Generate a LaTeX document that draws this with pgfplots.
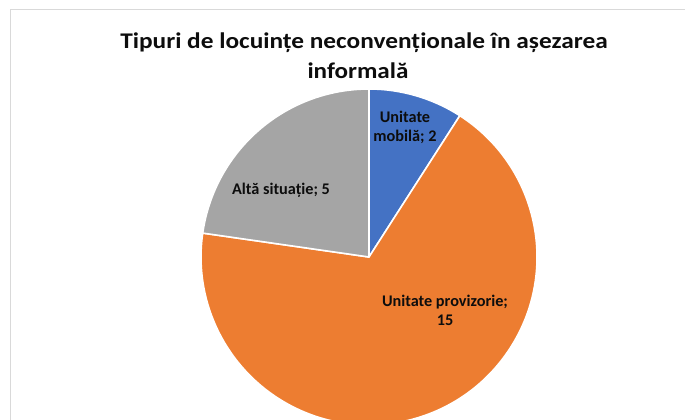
\documentclass[border=0pt]{standalone}
\usepackage{pgfplots}
\usepackage{pgfplotstable}
\pgfplotsset{compat=1.18}
\usepackage{fontspec}
\setmainfont{Carlito}
\definecolor{cblue}{HTML}{4472C4}
\definecolor{corange}{HTML}{ED7D31}
\definecolor{cgray}{HTML}{A5A5A5}
\definecolor{cframe}{HTML}{D9D9D9}
\definecolor{ctext}{HTML}{0D0D0D}
\pgfplotstableread{
label value
mobila 2
provizorie 15
alta 5
}\datatable
\begin{document}
\begin{tikzpicture}
\pgfplotstablegetelem{0}{value}\of\datatable \let\va\pgfplotsretval
\pgfplotstablegetelem{1}{value}\of\datatable \let\vb\pgfplotsretval
\pgfplotstablegetelem{2}{value}\of\datatable \let\vc\pgfplotsretval
\pgfmathsetmacro{\tot}{\va+\vb+\vc}
\pgfmathsetmacro{\aA}{90}
\pgfmathsetmacro{\aB}{90-360*\va/\tot}
\pgfmathsetmacro{\aC}{\aB-360*\vb/\tot}
\pgfmathsetmacro{\aD}{\aC-360*\vc/\tot}
\begin{axis}[
  at={(0,0)}, anchor=south west,
  width=685bp, height=420bp, scale only axis,
  xmin=0, xmax=685, ymin=0, ymax=420,
  axis lines=none, clip=true,
]
\addplot[draw=none] coordinates {(0,0) (685,420)};
\draw[cframe, line width=0.8pt] (axis cs:10.5,-5) -- (axis cs:10.5,410.5) -- (axis cs:700,410.5);
\filldraw[fill=cblue, draw=white, line width=1.6pt, line join=round]
  (axis cs:369,163) -- ++(\aA:168bp) arc[start angle=\aA, end angle=\aB, radius=168bp] -- cycle;
\filldraw[fill=corange, draw=white, line width=1.6pt, line join=round]
  (axis cs:369,163) -- ++(\aB:168bp) arc[start angle=\aB, end angle=\aC, radius=168bp] -- cycle;
\filldraw[fill=cgray, draw=white, line width=1.6pt, line join=round]
  (axis cs:369,163) -- ++(\aC:168bp) arc[start angle=\aC, end angle=\aD, radius=168bp] -- cycle;
\tikzset{ttl/.style={font=\fontsize{22.5}{27}\selectfont\bfseries, text=ctext, anchor=base, inner sep=0pt},
         lbl/.style={font=\fontsize{16.3}{19}\selectfont\bfseries, text=ctext, anchor=base, inner sep=0pt}}
\node[ttl] at (axis cs:364,372) {\scalebox{1.13}[1]{Tipuri de locuințe neconvenționale în așezarea}};
\node[ttl] at (axis cs:358,342) {\scalebox{1.12}[1]{informală}};
\node[lbl] at (axis cs:405,298) {Unitate};
\node[lbl] at (axis cs:405,279) {mobilă; 2};
\node[lbl] at (axis cs:281,226) {Altă situație; 5};
\node[lbl] at (axis cs:445,114) {Unitate provizorie;};
\node[lbl] at (axis cs:445,95) {15};
\end{axis}
\pgfresetboundingbox
\path[use as bounding box] (0,0) rectangle (685bp,420bp);
\end{tikzpicture}
\end{document}
